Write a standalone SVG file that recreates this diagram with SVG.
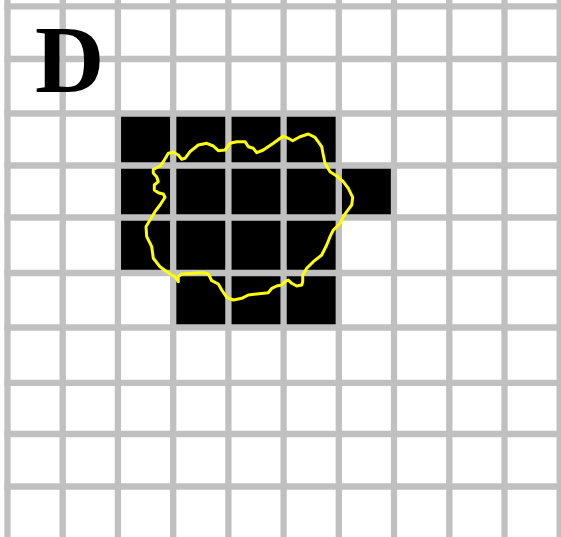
<svg xmlns="http://www.w3.org/2000/svg" width="561" height="537" viewBox="0 0 561 537">
<style>
.grid line{stroke:#c0c0c0;stroke-width:6.3}
.label{font-family:"Liberation Serif","Times New Roman",serif;font-weight:bold;font-size:96px;fill:#000}
.contour{fill:none;stroke:#ffff00;stroke-width:3;stroke-linejoin:round;stroke-linecap:round}
</style>
<rect x="0" y="0" width="561" height="537" fill="#ffffff"/>
<g id="cells">
<path d="M117.9,113.5 H338.8 V165.5 H394 V217.5 H338.8 V327.5 H173.2 V273 H117.9 Z" fill="#000"/>
</g>
<g id="grid" class="grid">
<line x1="7.5" y1="0" x2="7.5" y2="537"/>
<line x1="62.7" y1="0" x2="62.7" y2="537"/>
<line x1="117.9" y1="0" x2="117.9" y2="537"/>
<line x1="173.2" y1="0" x2="173.2" y2="537"/>
<line x1="228.4" y1="0" x2="228.4" y2="537"/>
<line x1="283.6" y1="0" x2="283.6" y2="537"/>
<line x1="338.8" y1="0" x2="338.8" y2="537"/>
<line x1="394" y1="0" x2="394" y2="537"/>
<line x1="449.3" y1="0" x2="449.3" y2="537"/>
<line x1="504.5" y1="0" x2="504.5" y2="537"/>
<line x1="559.7" y1="0" x2="559.7" y2="537"/>
<line x1="4.3" y1="6.3" x2="561" y2="6.3"/>
<line x1="4.3" y1="59" x2="561" y2="59"/>
<line x1="4.3" y1="113.5" x2="561" y2="113.5"/>
<line x1="4.3" y1="165.5" x2="561" y2="165.5"/>
<line x1="4.3" y1="217.5" x2="561" y2="217.5"/>
<line x1="4.3" y1="273" x2="561" y2="273"/>
<line x1="4.3" y1="327.5" x2="561" y2="327.5"/>
<line x1="4.3" y1="382.8" x2="561" y2="382.8"/>
<line x1="4.3" y1="434" x2="561" y2="434"/>
<line x1="4.3" y1="486.5" x2="561" y2="486.5"/>
</g>
<g id="contour">
<path class="contour" d="M163.3,161.7 L168.3,153.3 L173.3,152.3 L178.3,155 L181.7,159.3 L185,158.3 L190,151.7 L198.3,145 L206.7,143.3 L213.3,146 L218.3,150.7 L225,150 L230,143.3 L236.7,141.7 L245,141.7 L248.3,146.7 L253.3,148.3 L256.7,152.7 L263.3,150 L273.3,143.3 L283.3,136 L288.3,138.3 L292.7,140.7 L300,136.7 L308.3,134 L315,137.3 L321.7,146.7 L323.3,155 L325,163.3 L330,171.7 L336.7,176 L343.3,181.7 L348.3,188.3 L352.7,197.3 L351.7,205 L346.7,211.7 L343.3,216.7 L340,223.3 L333.3,230 L330,236.7 L326.7,245 L321.7,255 L313.3,261.7 L306.7,268.3 L302.7,275 L302.7,281.7 L301.7,285 L296.7,286 L291.7,283.3 L288.3,280 L285,281.7 L281.7,285 L276.7,286 L271.7,288.3 L268.3,292.7 L256.7,294 L248.3,295 L241.7,298.3 L233.3,300 L226.7,297.3 L221.7,290 L218.3,284 L211.7,280.7 L208.3,274 L203.3,272.7 L193.3,273.3 L181.7,274 L178.3,276.7 L178.3,281.7 L175,276.7 L170,274 L160,266.7 L153.3,258.3 L151.7,246.7 L146.7,236.7 L146,226.7 L150,220 L155,211.7 L160,205 L165,197.3 L163.3,194 L158.3,192.7 L154.3,190 L154.3,185 L158.3,181.7 L156.7,176.7 L153.3,173.3 L153.3,169.3 L160,166 Z"/>
</g>
<g id="title">
<text class="label" x="35" y="92">D</text>
</g>
</svg>
